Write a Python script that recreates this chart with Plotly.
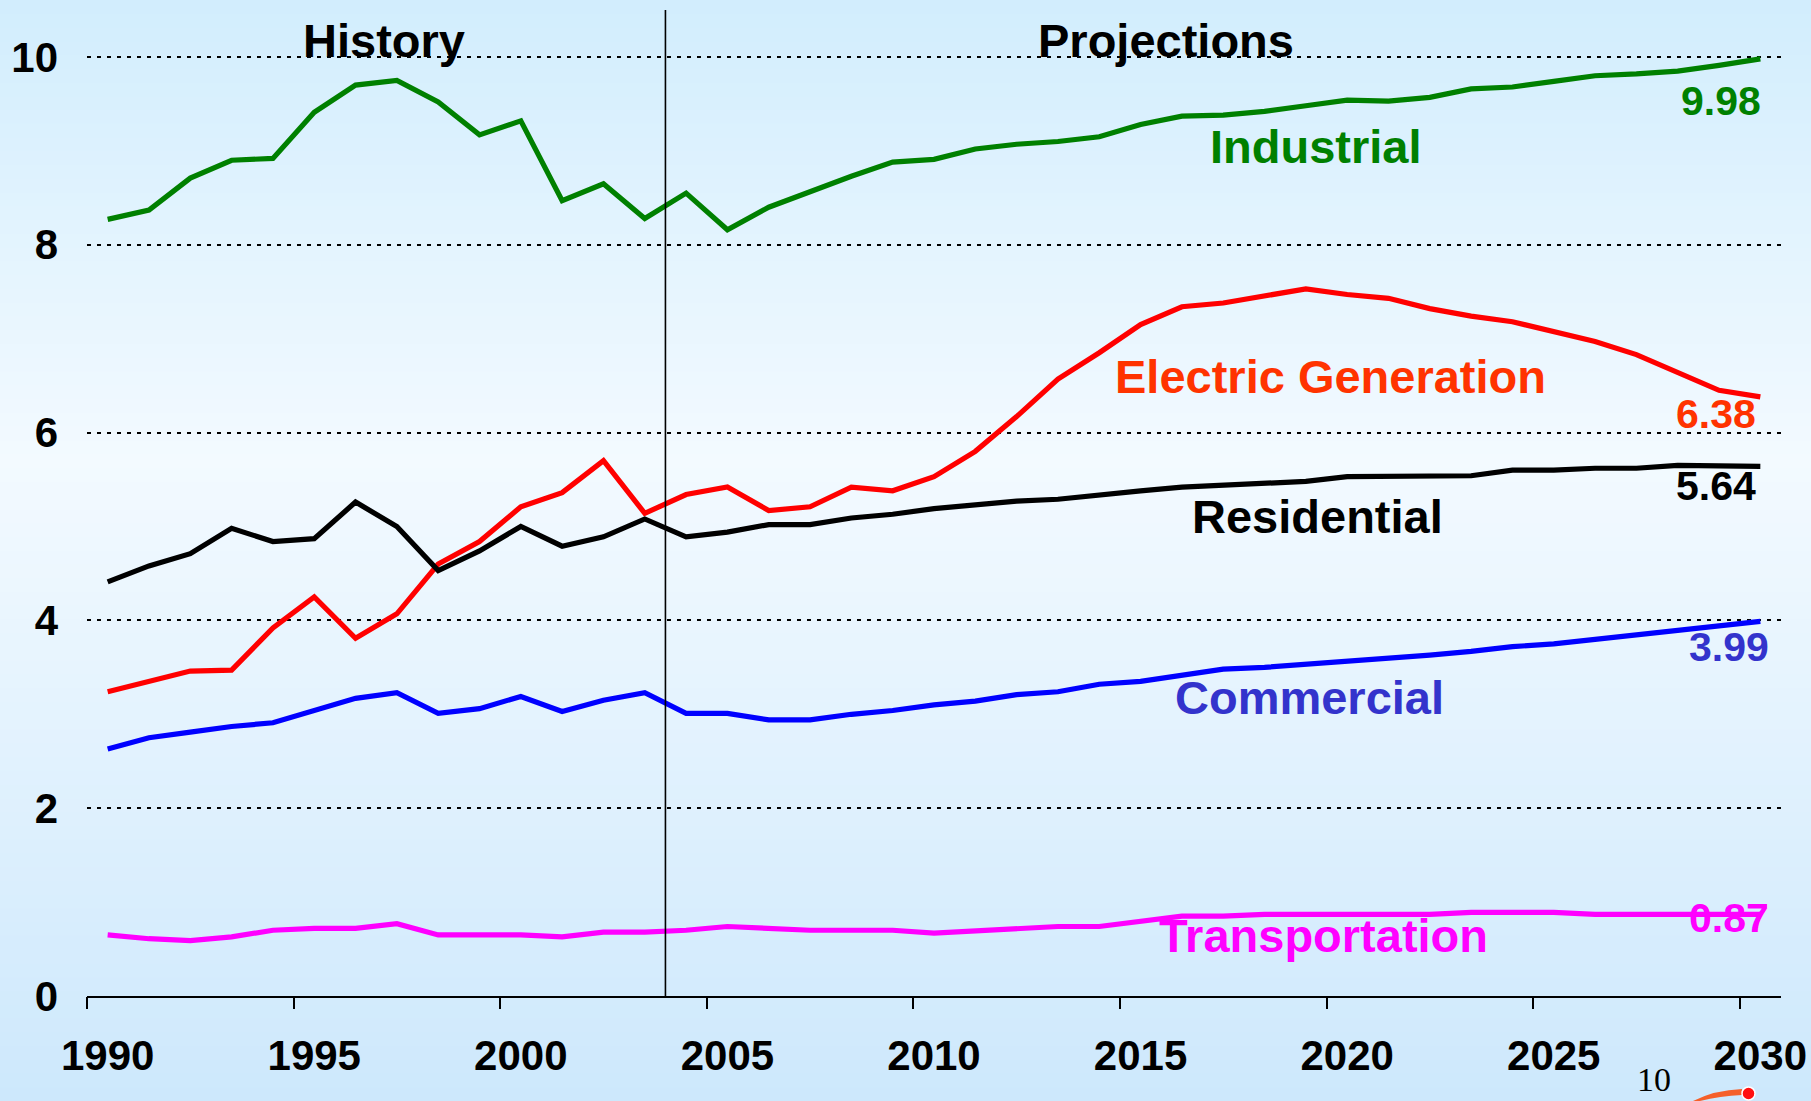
import plotly.graph_objects as go

years = list(range(1990, 2031))

industrial = [8.27, 8.37, 8.71, 8.90, 8.92, 9.41, 9.70, 9.75, 9.52, 9.17,
              9.32, 8.47, 8.65, 8.28, 8.55, 8.16, 8.40, 8.57, 8.73, 8.88,
              8.91, 9.02, 9.07, 9.10, 9.15, 9.28, 9.37, 9.38, 9.42, 9.48,
              9.54, 9.53, 9.57, 9.66, 9.68, 9.74, 9.80, 9.82, 9.85, 9.91, 9.98]

electric = [3.24, 3.35, 3.46, 3.47, 3.92, 4.25, 3.81, 4.07, 4.60, 4.84,
            5.21, 5.36, 5.70, 5.14, 5.34, 5.42, 5.17, 5.21, 5.42, 5.38,
            5.53, 5.80, 6.17, 6.57, 6.85, 7.15, 7.34, 7.38, 7.45, 7.53,
            7.47, 7.43, 7.32, 7.24, 7.18, 7.08, 6.97, 6.83, 6.64, 6.45, 6.38]

residential = [4.41, 4.58, 4.71, 4.98, 4.84, 4.87, 5.26, 5.00, 4.53, 4.74,
               5.00, 4.79, 4.89, 5.08, 4.89, 4.94, 5.02, 5.02, 5.09, 5.13,
               5.19, 5.23, 5.27, 5.29, 5.34, 5.38, 5.42, 5.44, 5.46, 5.48,
               5.53, 5.53, 5.54, 5.54, 5.60, 5.60, 5.62, 5.62, 5.65, 5.65, 5.64]

commercial = [2.63, 2.75, 2.81, 2.87, 2.91, 3.04, 3.17, 3.23, 3.01, 3.06,
              3.19, 3.03, 3.15, 3.23, 3.01, 3.01, 2.94, 2.94, 3.00, 3.04,
              3.10, 3.14, 3.21, 3.24, 3.32, 3.35, 3.42, 3.48, 3.50, 3.53,
              3.56, 3.59, 3.63, 3.67, 3.72, 3.75, 3.80, 3.85, 3.90, 3.95, 3.99]

transportation = [0.65, 0.61, 0.59, 0.63, 0.70, 0.72, 0.72, 0.77, 0.65, 0.65,
                  0.65, 0.63, 0.68, 0.68, 0.70, 0.74, 0.72, 0.70, 0.70, 0.70,
                  0.67, 0.69, 0.71, 0.74, 0.74, 0.80, 0.85, 0.85, 0.87, 0.87,
                  0.87, 0.87, 0.87, 0.89, 0.89, 0.89, 0.87, 0.87, 0.87, 0.87, 0.87]

series_names = ["Industrial", "Electric Generation", "Residential", "Commercial", "Transportation"]
y_ticks = [0, 2, 4, 6, 8, 10]
x_tick_years = [1990, 1995, 2000, 2005, 2010, 2015, 2020, 2025, 2030]
history_end = 2003.5

W, H = 1811, 1101
ML, MR, MT, MB = 87, 30, 10, 105
PW, PH = W - ML - MR, H - MT - MB


def px_x(x):
    return (x - ML) / PW


def px_y(y):
    return (H - MB - y) / PH


line_colors = ["#008000", "#FF0000", "#000000", "#0000FF", "#FF00FF"]
text_colors = ["#008000", "#FF3300", "#000000", "#3333CC", "#FF00FF"]
data = [industrial, electric, residential, commercial, transportation]

fig = go.Figure()

# background gradient (figure-wide stripes)
top = (210, 237, 253)
mid = (243, 250, 255)
bot = (205, 232, 252)
n = 80
mid_frac = 0.42
shapes = []
for i in range(n):
    f = (i + 0.5) / n
    if f < mid_frac:
        t = f / mid_frac
        c = tuple(round(top[k] + (mid[k] - top[k]) * t) for k in range(3))
    else:
        t = (f - mid_frac) / (1 - mid_frac)
        c = tuple(round(mid[k] + (bot[k] - mid[k]) * t) for k in range(3))
    y0 = H * i / n
    y1 = H * (i + 1) / n + 1
    shapes.append(dict(type="rect", xref="paper", yref="paper", layer="below",
                       x0=px_x(0), x1=px_x(W), y0=px_y(y1), y1=px_y(y0),
                       line=dict(width=0), fillcolor="rgb(%d,%d,%d)" % c))

for name, vals, col in zip(series_names, data, line_colors):
    fig.add_trace(go.Scatter(x=years, y=vals, mode="lines", name=name,
                             line=dict(color=col, width=5.2), showlegend=False,
                             hoverinfo="x+y+name"))

# dummy trace to activate overlay axis for boundary ticks
fig.add_trace(go.Scatter(x=[years[0]], y=[None], xaxis="x2", showlegend=False,
                         hoverinfo="skip"))

# history / projection divider
shapes.append(dict(type="line", xref="x", yref="paper", x0=history_end, x1=history_end,
                   y0=0, y1=1, line=dict(color="black", width=1.6), layer="above"))

# logo swoosh (decoration)
shapes.append(dict(type="path", xref="paper", yref="paper", layer="above",
                   path="M %f %f Q %f %f %f %f L %f %f Q %f %f %f %f Z" % (
                       px_x(1693), px_y(1101), px_x(1715), px_y(1090), px_x(1742), px_y(1089),
                       px_x(1742), px_y(1095), px_x(1720), px_y(1096), px_x(1700), px_y(1101)),
                   line=dict(width=0), fillcolor="#F5602A"))
shapes.append(dict(type="circle", xref="paper", yref="paper", layer="above",
                   x0=px_x(1742), x1=px_x(1755), y0=px_y(1100), y1=px_y(1087),
                   line=dict(color="white", width=1.5), fillcolor="#FF1010"))

font_b = "Liberation Sans, Arial, sans-serif"

annotations = []


def add_text(text, cx, cy, size, color, family=font_b, bold=True):
    annotations.append(dict(text=("<b>%s</b>" % text) if bold else text,
                            xref="paper", yref="paper", x=px_x(cx), y=px_y(cy),
                            xanchor="center", yanchor="middle", showarrow=False,
                            font=dict(family=family, size=size, color=color)))


add_text("History", 383.5, 40, 47, "black")
add_text("Projections", 1166, 40, 47, "black")

label_pos = [(1315.7, 146.7), (1330.7, 376.7), (1317.5, 516.3), (1309, 697), (1323, 935)]
value_pos = [(1720.5, 101.5), (1716, 413.8), (1716, 486), (1728.5, 647), (1729, 918)]
for name, vals, col, lp, vp in zip(series_names, data, text_colors, label_pos, value_pos):
    add_text(name, lp[0], lp[1], 47, col)
    add_text("%.2f" % vals[-1], vp[0], vp[1], 41, col)

add_text("10", 1653.5, 1079, 34, "black", family="Liberation Serif, Times New Roman, serif", bold=False)

fig.update_layout(
    width=W, height=H,
    margin=dict(l=ML, r=MR, t=MT, b=MB, pad=0, autoexpand=False),
    paper_bgcolor="rgb(225,243,254)",
    plot_bgcolor="rgba(0,0,0,0)",
    shapes=shapes,
    annotations=annotations,
    xaxis=dict(range=[1989.5, 2030.5], tickmode="array", tickvals=x_tick_years,
               ticktext=[str(v) for v in x_tick_years], ticks="", showgrid=False,
               zeroline=False, showline=True, linecolor="black", linewidth=2,
               automargin=False,
               tickfont=dict(family=font_b, size=42, color="black", weight="bold"),
               ticklabelstandoff=22),
    xaxis2=dict(range=[1989.5, 2030.5], overlaying="x", anchor="y", side="bottom",
                tickmode="array", tickvals=[1989.5 + 5 * i for i in range(9)],
                showticklabels=False, ticks="outside", ticklen=12, tickwidth=2,
                automargin=False,
                tickcolor="black", showgrid=False, zeroline=False, showline=False),
    yaxis=dict(range=[0, 10.5], tickmode="array", tickvals=y_ticks,
               ticktext=[str(v) for v in y_ticks], ticks="", showgrid=True,
               gridcolor="black", gridwidth=2, griddash="4px,6px", zeroline=False,
               showline=False, automargin=False,
               tickfont=dict(family=font_b, size=42, color="black", weight="bold"),
               ticklabelstandoff=28),
)

fig.write_html(
    "out.html",
    config={"displayModeBar": False},
    post_script="document.body.style.margin='0px';"
                "document.body.style.overflow='hidden';"
                "document.documentElement.style.overflow='hidden';",
)
